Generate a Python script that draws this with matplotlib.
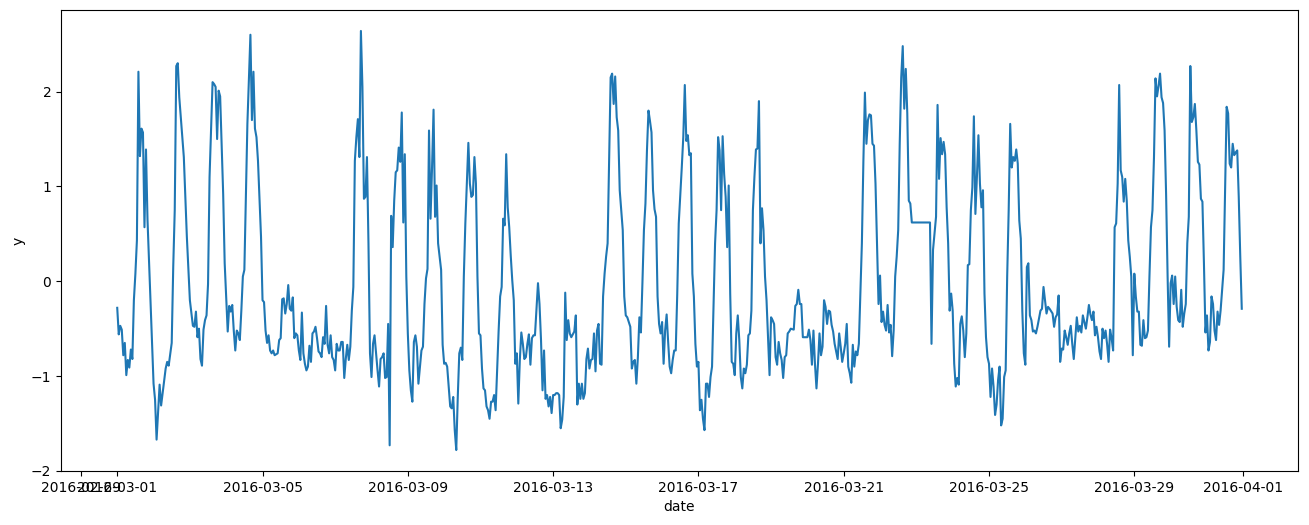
import matplotlib
matplotlib.use("Agg")
import matplotlib.pyplot as plt
import pandas as pd

# hourly series, March 2016 (hour offset from 2016-03-01 00:00)
hours = [
    0, 1, 2, 3, 4, 5, 6, 7, 8, 9, 10, 11, 12, 13, 14, 15, 16, 17, 18, 19, 20,
    24, 25, 26, 28, 29, 32, 33, 34, 36, 37, 38, 39, 40, 41, 44, 46, 47, 48,
    50, 51, 52, 53, 54, 55, 56, 57, 58, 59, 60, 61, 63, 64, 65, 66, 67, 68,
    70, 71, 72, 73, 74, 75, 76, 77, 78, 79, 80, 81, 82, 83, 84, 85, 86, 88,
    89, 90, 91, 92, 93, 95, 96, 97, 98, 99, 100, 101, 102, 103, 104, 106,
    107, 108, 109, 110, 111, 112, 113, 114, 115, 116, 117, 118, 119, 120,
    121, 122, 123, 124, 125, 126, 127, 128, 129, 130, 131, 132, 133, 134,
    135, 136, 137, 138, 139, 140, 141, 142, 143, 144, 145, 146, 147, 148,
    149, 150, 151, 152, 153, 154, 155, 156, 157, 158, 159, 160, 161, 162,
    163, 164, 165, 166, 167, 168, 169, 170, 171, 172, 173, 174, 175, 176,
    177, 178, 179, 180, 181, 182, 183, 184, 185, 186, 187, 188, 189, 190,
    191, 192, 193, 194, 195, 196, 197, 198, 199, 200, 201, 202, 203, 204,
    205, 206, 207, 208, 209, 210, 211, 212, 213, 214, 215, 216, 217, 218,
    219, 220, 221, 222, 223, 224, 225, 226, 227, 228, 229, 230, 231, 232,
    233, 234, 235, 236, 237, 238, 239, 240, 241, 242, 243, 244, 245, 246,
    247, 248, 249, 250, 251, 252, 253, 254, 255, 256, 257, 258, 259, 260,
    261, 262, 263, 264, 265, 266, 267, 268, 269, 270, 271, 272, 273, 274,
    275, 276, 277, 278, 279, 280, 281, 282, 283, 284, 285, 286, 287, 288,
    289, 290, 291, 292, 293, 294, 295, 296, 297, 298, 299, 300, 302, 303,
    304, 305, 306, 307, 308, 309, 310, 311, 312, 313, 314, 315, 316, 317,
    318, 319, 320, 321, 322, 323, 324, 325, 326, 327, 328, 329, 330, 331,
    332, 334, 335, 336, 337, 338, 339, 340, 341, 342, 343, 344, 345, 346,
    347, 348, 349, 350, 351, 352, 353, 354, 355, 356, 357, 358, 359, 360,
    361, 362, 363, 364, 365, 366, 367, 368, 369, 370, 371, 373, 374, 375,
    376, 377, 378, 379, 380, 381, 382, 383, 384, 385, 386, 387, 388, 389,
    390, 391, 392, 393, 394, 395, 396, 397, 398, 399, 400, 401, 402, 403,
    404, 405, 406, 407, 408, 409, 410, 411, 412, 413, 414, 415, 416, 417,
    418, 419, 420, 421, 422, 423, 424, 425, 426, 427, 428, 429, 430, 431,
    432, 433, 434, 435, 436, 437, 438, 439, 440, 441, 442, 443, 444, 445,
    447, 448, 449, 450, 451, 452, 453, 454, 456, 457, 458, 459, 460, 461,
    462, 463, 464, 465, 466, 467, 468, 469, 470, 471, 472, 473, 474, 475,
    476, 477, 478, 479, 480, 481, 482, 483, 484, 485, 486, 487, 488, 489,
    490, 491, 492, 493, 494, 495, 496, 497, 498, 499, 500, 501, 502, 503,
    504, 505, 506, 507, 508, 509, 510, 511, 512, 513, 514, 515, 516, 517,
    518, 519, 520, 521, 522, 523, 524, 525, 537, 538, 539, 541, 542, 543,
    544, 545, 546, 547, 548, 549, 550, 551, 552, 553, 554, 555, 556, 557,
    558, 559, 560, 561, 562, 563, 564, 565, 566, 567, 568, 569, 570, 571,
    572, 573, 574, 575, 576, 577, 578, 579, 580, 581, 582, 583, 584, 585,
    586, 587, 588, 589, 590, 591, 592, 593, 594, 595, 596, 597, 598, 599,
    600, 601, 602, 603, 604, 605, 606, 607, 608, 610, 611, 612, 613, 614,
    615, 616, 618, 619, 620, 621, 622, 623, 624, 625, 626, 627, 628, 629,
    630, 631, 632, 633, 634, 635, 636, 637, 638, 639, 640, 641, 642, 643,
    644, 645, 646, 647, 648, 649, 650, 651, 652, 653, 654, 655, 656, 657,
    658, 659, 660, 661, 662, 663, 664, 665, 666, 667, 668, 669, 670, 671,
    672, 673, 674, 675, 676, 677, 678, 679, 680, 681, 682, 683, 684, 685,
    686, 687, 688, 689, 690, 691, 692, 693, 694, 695, 696, 697, 698, 699,
    700, 701, 702, 703, 704, 705, 706, 707, 708, 709, 710, 711, 712, 713,
    714, 715, 716, 717, 718, 719, 720, 721, 722, 723, 724, 725, 726, 727,
    728, 729, 730, 731, 732, 733, 734, 735, 736, 737, 738, 739, 740, 741,
    742, 743,
]

y = [
    -0.28, -0.56, -0.47, -0.51, -0.78, -0.65, -0.99, -0.83, -0.91, -0.72, -0.82, -0.20, 0.08, 0.43, 2.21, 1.32, 1.61, 1.57, 0.57, 1.39, 0.65,
    -1.08, -1.25, -1.67, -1.09, -1.31, -0.92, -0.85, -0.89, -0.65, 0.15, 0.75, 2.27, 2.30, 1.94, 1.31, 0.47, 0.13, -0.20,
    -0.47, -0.48, -0.32, -0.59, -0.50, -0.82, -0.89, -0.51, -0.41, -0.36, -0.03, 1.10, 2.10, 2.08, 2.05, 1.50, 2.01, 1.95,
    0.92, 0.19, -0.16, -0.53, -0.26, -0.32, -0.25, -0.52, -0.73, -0.52, -0.55, -0.62, -0.31, 0.05, 0.12, 0.89, 1.66, 2.60,
    1.70, 2.21, 1.61, 1.52, 1.27, 0.47, -0.20, -0.22, -0.52, -0.65, -0.57, -0.73, -0.76, -0.73, -0.78, -0.76,
    -0.62, -0.60, -0.19, -0.18, -0.34, -0.24, -0.04, -0.29, -0.31, -0.17, -0.60, -0.55, -0.57, -0.73,
    -0.83, -0.33, -0.76, -0.87, -0.94, -0.90, -0.68, -0.85, -0.55, -0.53, -0.48, -0.60, -0.74, -0.76,
    -0.80, -0.59, -0.66, -0.26, -0.67, -0.76, -0.57, -0.80, -0.83, -0.94, -0.66, -0.73, -0.73, -0.64,
    -0.64, -1.02, -0.82, -0.67, -0.83, -0.69, -0.31, -0.06, 1.27, 1.52, 1.71, 1.31, 2.64, 2.05,
    0.87, 0.89, 1.31, 0.40, -0.76, -1.01, -0.66, -0.57, -0.76, -0.94, -1.11, -0.82, -0.80, -0.76,
    -1.02, -1.01, -0.45, -1.73, 0.69, 0.36, 0.85, 1.15, 1.17, 1.41, 1.26, 1.78, 0.62, 1.34,
    0.05, -0.55, -0.94, -1.15, -1.27, -0.64, -0.57, -0.69, -1.08, -0.90, -0.73, -0.69, -0.24, 0.03,
    0.13, 1.59, 0.66, 1.20, 1.81, 0.68, 1.01, 0.40, 0.26, 0.12, -0.67, -0.87, -0.86, -0.90,
    -1.11, -1.32, -1.34, -1.22, -1.57, -1.78, -1.22, -0.76, -0.70, -0.83, 0.05, 0.61, 1.03, 1.46,
    1.03, 0.89, 0.91, 1.31, 1.03, 0.05, -0.55, -0.57, -0.92, -1.13, -1.15, -1.32, -1.36, -1.45,
    -1.27, -1.27, -1.20, -1.36, -0.94, -0.52, -0.16, -0.06, 0.66, 0.59, 1.34, 0.78, 0.57, 0.27,
    0.01, -0.20, -0.87, -0.76, -1.29, -0.83, -0.54, -0.66, -0.82, -0.80, -0.66, -0.56, -0.88, -0.60,
    -0.57, -0.57, -0.29, -0.02, -0.24, -0.62, -1.15, -0.73, -1.24, -1.20, -1.32, -1.22, -1.39, -1.20,
    -1.20, -1.18, -1.18, -1.20, -1.55, -1.46, -1.22, -0.12, -0.62, -0.41, -0.55, -0.59, -0.53, -0.36,
    -1.30, -1.08, -1.24, -1.08, -1.24, -1.18, -0.82, -0.71, -0.92, -0.83, -0.82, -0.55, -0.95, -0.52,
    -0.45, -0.87, -0.88, -0.16, 0.08, 0.26, 0.40, 1.27, 2.15, 2.19, 1.87, 2.16, 1.73, 1.59,
    0.96, 0.54, -0.16, -0.36, -0.38, -0.43, -0.48, -0.92, -0.85, -0.83, -1.08, -0.80, -0.38, -0.54,
    -0.02, 0.54, 0.82, 1.38, 1.80, 1.69, 1.57, 0.96, 0.76, 0.68, -0.16, -0.45, -0.55, -0.43,
    -0.87, -0.52, -0.35, -0.64, -0.90, -0.97, -0.83, -0.73, -0.73, -0.14, 0.61, 1.20, 1.52, 2.07,
    1.48, 1.54, 1.33, 1.35, 0.08, -0.16, -0.66, -0.90, -0.85, -1.36, -1.25, -1.45, -1.57, -1.08,
    -1.08, -1.22, -1.01, -0.90, -0.24, 0.40, 0.75, 1.52, 1.38, 0.75, 1.53, 1.13, 0.89, 0.36,
    1.01, -0.13, -0.85, -0.87, -0.99, -0.55, -0.36, -0.62, -1.01, -1.13, -0.92, -0.97, -0.88, -0.57,
    -0.55, -0.31, 0.75, 1.10, 1.39, 1.40, 1.90, 0.40, 0.77, 0.54, 0.05, -0.20, -0.59, -0.99,
    -0.38, -0.41, -0.45, -0.80, -0.88, -0.64, -0.76, -0.83, -1.02, -0.80, -0.78, -0.55, -0.53, -0.50,
    -0.51, -0.26, -0.24, -0.09, -0.24, -0.24, -0.59, -0.59, -0.59, -0.51, -0.62, -0.88, -0.52, -0.87,
    -1.13, -0.87, -0.55, -0.78, -0.69, -0.20, -0.27, -0.45, -0.31, -0.32, -0.46, -0.53, -0.66, -0.74,
    -0.82, -0.55, -0.69, -0.85, -0.76, -0.66, -0.45, -0.90, -0.97, -1.07, -0.67, -0.90, -0.74, -0.78,
    -0.66, -0.13, 0.40, 1.27, 1.99, 1.45, 1.70, 1.76, 1.75, 1.45, 1.43, 1.03, 0.40, -0.24,
    0.06, -0.43, -0.32, -0.46, -0.52, -0.25, -0.54, -0.46, -0.79, -0.52, 0.05, 0.26, 0.54, 1.45,
    2.15, 2.48, 1.82, 2.24, 1.77, 0.85, 0.82, 0.62, 0.62, -0.66, 0.33, 0.68, 1.86, 1.08,
    1.51, 1.34, 1.47, 1.34, 0.78, 0.40, -0.31, -0.13, -0.31, -0.87, -1.11, -1.02, -1.09, -0.45,
    -0.37, -0.52, -0.80, -0.55, 0.17, 0.18, 0.75, 0.99, 1.74, 0.71, 1.10, 1.54, 1.03, 0.78,
    0.96, -0.13, -0.59, -0.80, -0.87, -1.22, -0.92, -1.11, -1.41, -1.30, -1.04, -0.90, -1.52, -1.45,
    -1.01, -0.94, 0.05, 0.75, 1.66, 1.20, 1.31, 1.27, 1.39, 1.24, 0.64, 0.45, -0.31, -0.76,
    -0.88, 0.15, 0.19, -0.36, -0.41, -0.53, -0.52, -0.55, -0.48, -0.31, -0.29, -0.06, -0.20, -0.34,
    -0.27, -0.29, -0.34, -0.48, -0.38, -0.35, -0.15, -0.85, -0.71, -0.72, -0.52, -0.59, -0.67, -0.55,
    -0.47, -0.66, -0.82, -0.60, -0.38, -0.53, -0.47, -0.54, -0.36, -0.43, -0.50, -0.38, -0.25, -0.35,
    -0.41, -0.32, -0.57, -0.48, -0.59, -0.74, -0.82, -0.50, -0.60, -0.52, -0.66, -0.85, -0.51, -0.60,
    -0.73, 0.57, 0.61, 1.03, 2.07, 1.17, 1.10, 0.84, 1.08, 0.85, 0.43, 0.26, 0.05, -0.78,
    0.08, -0.16, -0.32, -0.32, -0.67, -0.68, -0.41, -0.60, -0.59, -0.52, 0.05, 0.57, 0.75, 1.31,
    2.14, 1.95, 2.06, 2.19, 1.94, 1.88, 1.59, 0.92, 0.05, -0.69, -0.02, 0.06, -0.24, 0.05,
    -0.27, -0.41, -0.43, -0.09, -0.48, -0.34, -0.24, 0.40, 0.68, 2.27, 1.68, 1.73, 1.87, 1.59,
    1.26, 1.23, 0.87, 0.84, 0.19, -0.54, -0.36, -0.73, -0.64, -0.16, -0.24, -0.52, -0.62, -0.32,
    -0.46, -0.31, -0.09, 0.12, 1.00, 1.84, 1.77, 1.24, 1.20, 1.45, 1.33, 1.36, 1.38, 0.89,
    0.26, -0.29,
]

start = pd.Timestamp("2016-03-01")
dates = start + pd.to_timedelta(hours, unit="h")

fig, ax = plt.subplots(figsize=(13.09, 5.25), dpi=100)
fig.subplots_adjust(left=61 / 1309, right=1298 / 1309, top=1 - 10 / 525, bottom=1 - 471 / 525)
ax.plot(dates, y, color="#1f77b4", linewidth=1.5)
ax.set_xlabel("date")
ax.set_ylabel("y")
fig.savefig("out.png", dpi=100)
